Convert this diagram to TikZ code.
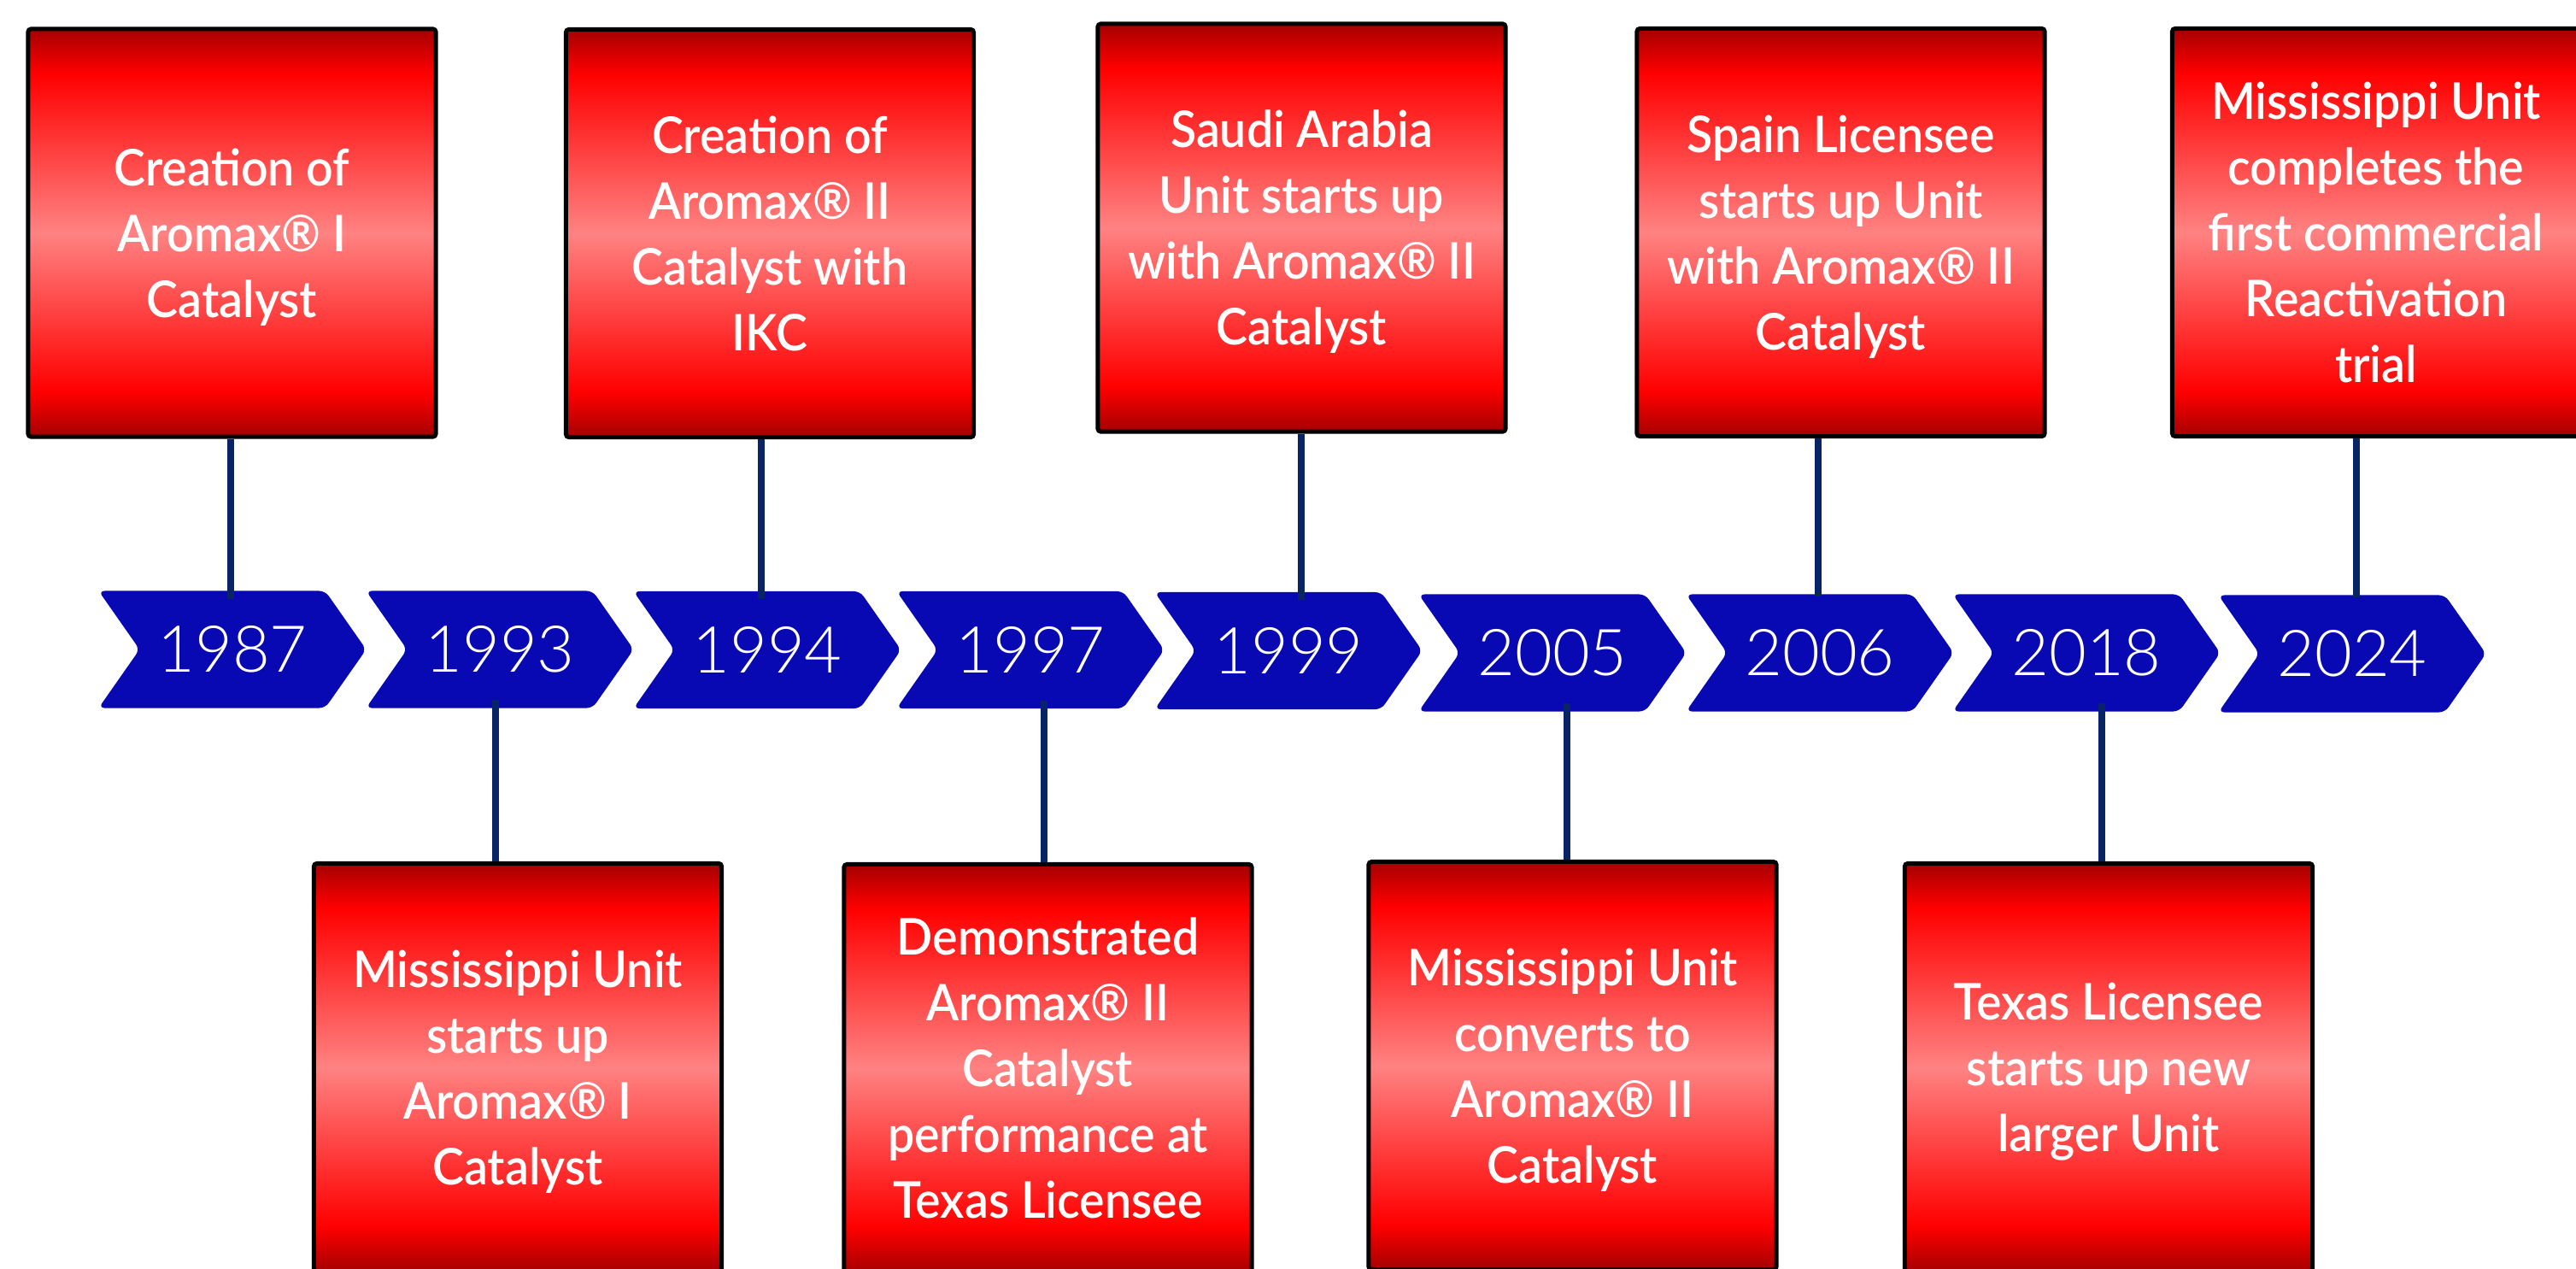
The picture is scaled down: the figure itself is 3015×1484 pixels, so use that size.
\documentclass[tikz,border=0pt]{standalone}
\usepackage{fontspec}
\setmainfont{Lato}
\newfontfamily\yearfont{Lato Light}
\newfontfamily\boxfont{Lato Semibold}[FakeStretch=0.94]
\usetikzlibrary{shapes.symbols}
\definecolor{boxdark}{RGB}{165,0,0}
\definecolor{boxred}{RGB}{255,0,0}
\definecolor{boxpink}{RGB}{255,130,130}
\definecolor{chevblue}{RGB}{9,9,180}
\definecolor{stemblue}{RGB}{8,36,100}
\pgfdeclareverticalshading{boxshade}{100bp}{color(0bp)=(boxdark); color(25bp)=(boxdark); color(30.5bp)=(boxred); color(50bp)=(boxpink); color(69.5bp)=(boxred); color(75bp)=(boxdark); color(100bp)=(boxdark)}
\begin{document}
\begin{tikzpicture}[x=0.01cm, y=-0.01cm,
  event/.style={draw=black, line width=1.4pt, rounded corners=1pt, shading=boxshade,
    minimum width=4.77cm, minimum height=4.77cm, inner sep=0pt, text=white, align=center,
    text depth=-2pt, font=\boxfont\fontsize{16.8}{21.9}\selectfont},
  chev/.style={signal, signal from=west, signal to=east, signal pointer angle=110,
    fill=chevblue, minimum width=3.13cm, minimum height=1.37cm, inner sep=0pt,
    rounded corners=2pt, text=white, font=\yearfont\fontsize{21.5}{24}\selectfont},
  stem/.style={draw=stemblue, line width=2.3pt}]
\useasboundingbox (0,0) rectangle (3015,1484);
\clip (0,0) rectangle (3015,1484);

\node[chev] (yr1987) at (272,760) {1987};
\node[chev] (yr1993) at (585,760) {1993};
\node[chev] (yr1994) at (898,760.5) {1994};
\node[chev] (yr1997) at (1206,760.5) {1997};
\node[chev] (yr1999) at (1508,761.5) {1999};
\node[chev] (yr2005) at (1817,764) {2005};
\node[chev] (yr2006) at (2130,764) {2006};
\node[chev] (yr2018) at (2442,764) {2018};
\node[chev] (yr2024) at (2753,765) {2024};

\node[event] (ev1987) at (271.5,272.5) {Creation of\\Aromax® I\\Catalyst};
\node[event] (ev1994) at (901,273) {Creation of\\Aromax® II\\Catalyst with\\IKC};
\node[event] (ev1999) at (1523.5,266.5) {Saudi Arabia\\Unit starts up\\with Aromax® II\\Catalyst};
\node[event] (ev2006) at (2154.5,272) {Spain Licensee\\starts up Unit\\with Aromax® II\\Catalyst};
\node[event] (ev2024) at (2781,272) {Mississippi Unit\\completes the\\first commercial\\Reactivation\\trial};
\node[event] (ev1993) at (606,1249) {Mississippi Unit\\starts up\\Aromax® I\\Catalyst};
\node[event] (ev1997) at (1226.5,1250) {Demonstrated\\Aromax® II\\Catalyst\\performance at\\Texas Licensee};
\node[event] (ev2005) at (1840.5,1247) {Mississippi Unit\\converts to\\Aromax® II\\Catalyst};
\node[event] (ev2018) at (2468,1249) {Texas Licensee\\starts up new\\larger Unit};

\coordinate (st1987) at (270,0);
\coordinate (st1993) at (580,0);
\coordinate (st1994) at (891,0);
\coordinate (st1997) at (1222,0);
\coordinate (st1999) at (1523,0);
\coordinate (st2005) at (1834,0);
\coordinate (st2006) at (2128,0);
\coordinate (st2018) at (2460,0);
\coordinate (st2024) at (2758,0);

\draw[stem, shorten >=-1mm] (ev1987.south -| st1987) -- (yr1987.north -| st1987);
\draw[stem, shorten >=-1mm] (ev1994.south -| st1994) -- (yr1994.north -| st1994);
\draw[stem, shorten >=-1mm] (ev1999.south -| st1999) -- (yr1999.north -| st1999);
\draw[stem, shorten >=-0.3mm] (ev2006.south -| st2006) -- (yr2006.north -| st2006);
\draw[stem, shorten >=-0.3mm] (ev2024.south -| st2024) -- (yr2024.north -| st2024);
\draw[stem, shorten <=-1mm] (yr1993.south -| st1993) -- (ev1993.north -| st1993);
\draw[stem, shorten <=-1mm] (yr1997.south -| st1997) -- (ev1997.north -| st1997);
\draw[stem, shorten <=-1mm] (yr2005.south -| st2005) -- (ev2005.north -| st2005);
\draw[stem, shorten <=-1mm] (yr2018.south -| st2018) -- (ev2018.north -| st2018);
\end{tikzpicture}
\end{document}
